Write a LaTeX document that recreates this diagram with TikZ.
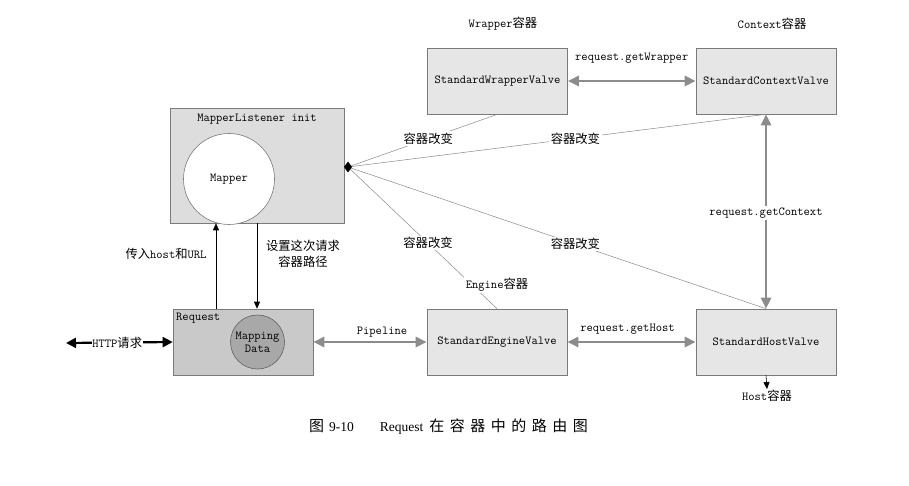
\documentclass[tikz,border=0pt]{standalone}
\usepackage{fontspec}
\newfontfamily\cjk{Noto Sans CJK SC}
\newfontfamily\capserif{Liberation Serif}
\usetikzlibrary{arrows.meta,shapes.geometric}
\newcommand\zh[1]{{\cjk\fontsize{12.3}{16}\selectfont #1}}
\newcommand\mfont{\ttfamily\fontsize{12.2}{16}\selectfont}
\definecolor{boxfill}{HTML}{E6E6E6}
\definecolor{mlfill}{HTML}{DDDDDD}
\definecolor{reqfill}{HTML}{C9C9C9}
\definecolor{mdfill}{HTML}{A8A8A8}
\definecolor{boxborder}{HTML}{7A7A7A}
\definecolor{linegray}{HTML}{8A8A8A}
\definecolor{arrowgray}{HTML}{8C8C8C}
\tikzset{
  every node/.style={font=\mfont},
  valve/.style={draw=boxborder, fill=boxfill, line width=0.6pt, minimum width=140pt, minimum height=66pt, inner sep=0pt},
  thinline/.style={draw=linegray, line width=0.5pt},
  garrow/.style={draw=arrowgray, line width=2.6pt, {Triangle[length=11pt,width=10pt]}-{Triangle[length=11pt,width=10pt]}},
  barrow/.style={draw=black, line width=2.2pt, {Triangle[length=10pt,width=10pt]}-{Triangle[length=10pt,width=10pt]}},
  tarrow/.style={draw=black, line width=0.6pt, -{Triangle[length=7pt,width=6pt]}},
  lbl/.style={fill=white, inner sep=1.5pt},
  plain/.style={inner sep=1pt}
}
\begin{document}
\begin{tikzpicture}[x=1pt,y=-1pt]
\fill[white] (0,0) rectangle (909,486);
\useasboundingbox (0,0) rectangle (909,486);

% valve boxes
\node[valve] (wr) at (497.5,81) {StandardWrapperValve};
\node[valve] (ctx) at (766,81) {StandardContextValve};
\node[valve] (eng) at (497,342) {StandardEngineValve};
\node[valve] (host) at (766,342) {StandardHostValve};

% titles
\node[plain] (wrt) at (503,24) {Wrapper\zh{容器}};
\node[plain] (ctxt) at (772,24) {Context\zh{容器}};

% mapper listener
\node[draw=boxborder, fill=mlfill, line width=0.6pt, minimum width=174pt, minimum height=115pt, inner sep=0pt] (ml) at (257,165.5) {};
\node[plain] (mlt) at (257,119) {MapperListener init};
\node[circle, draw=boxborder, fill=white, line width=0.6pt, minimum size=91pt, inner sep=0pt] (mp) at (229,179) {Mapper};

% request
\node[draw=boxborder, fill=reqfill, line width=0.6pt, minimum width=140pt, minimum height=66pt, inner sep=0pt] (req) at (243,342) {};
\node[plain, anchor=north west] (reqt) at (175,312) {Request};
\node[circle, draw=boxborder!80!black, fill=mdfill, line width=0.6pt, minimum size=54pt, inner sep=0pt, align=center] (md) at (257.5,342) {Mapping\\[-3pt]Data};

% thin lines from diamond
\coordinate (dmc) at (348,167);
\draw[thinline] (dmc) -- node[pos=0.537, lbl] {\zh{容器改变}} (wr.south);
\draw[thinline] (dmc) -- node[pos=0.544, lbl] {\zh{容器改变}} (ctx.south);
\draw[thinline] (dmc) -- node[pos=0.537, lbl] {\zh{容器改变}} (eng.north);
\draw[thinline] (dmc) -- node[pos=0.544, lbl] {\zh{容器改变}} (host.north);
\fill[black] (dmc) +(-4,0) -- +(0,-5.5) -- +(4,0) -- +(0,5.5) -- cycle;

\node[lbl] (engt) at (497,285) {Engine\zh{容器}};

% gray arrows
\draw[garrow] (wr.east) -- node[midway, yshift=23pt, plain] {request.getWrapper} (ctx.west);
\draw[garrow] (ctx.south) -- (host.north);
\node[lbl] (gctx) at (766,213) {request.getContext};
\draw[garrow] (eng.east) -- node[midway, yshift=13pt, plain, xshift=-4pt] {request.getHost} (host.west);
\draw[garrow] (req.east) -- node[midway, yshift=10pt, xshift=12pt, plain] {Pipeline} (eng.west);

% HTTP
\coordinate (httpl) at (66,343);
\draw[barrow] (httpl) -- node[pos=0.48, lbl, inner sep=0.5pt] {HTTP\zh{请求}} (req.west);

% vertical arrows between request and mapper
\draw[tarrow] ([xshift=-27pt]req.north) -- ([xshift=-27pt]req.north |- ml.south);
\draw[tarrow] (ml.south) -- (ml.south |- req.north);
\node[plain] (inlbl) at (166,254) {\zh{传入}host\zh{和}URL};
\node[plain, align=center, font=\cjk\fontsize{12.3}{16}\selectfont] (setlbl) at (303,254) {设置这次请求\\容器路径};

% host
\node[plain] (hostt) at (767,396) {Host\zh{容器}};
\draw[tarrow] (host.south) -- (hostt.north);

% caption
\node[anchor=west, inner sep=0pt] (cap) at (309,427) {{\cjk\fontsize{15}{18}\selectfont 图}\kern5pt{\capserif\fontsize{13.5}{18}\selectfont 9-10\kern26pt Request}\kern6pt{\cjk\fontsize{15}{18}\selectfont 在\kern5.5pt 容\kern5.5pt 器\kern5.5pt 中\kern5.5pt 的\kern5.5pt 路\kern5.5pt 由\kern5.5pt 图}};
\end{tikzpicture}
\end{document}
